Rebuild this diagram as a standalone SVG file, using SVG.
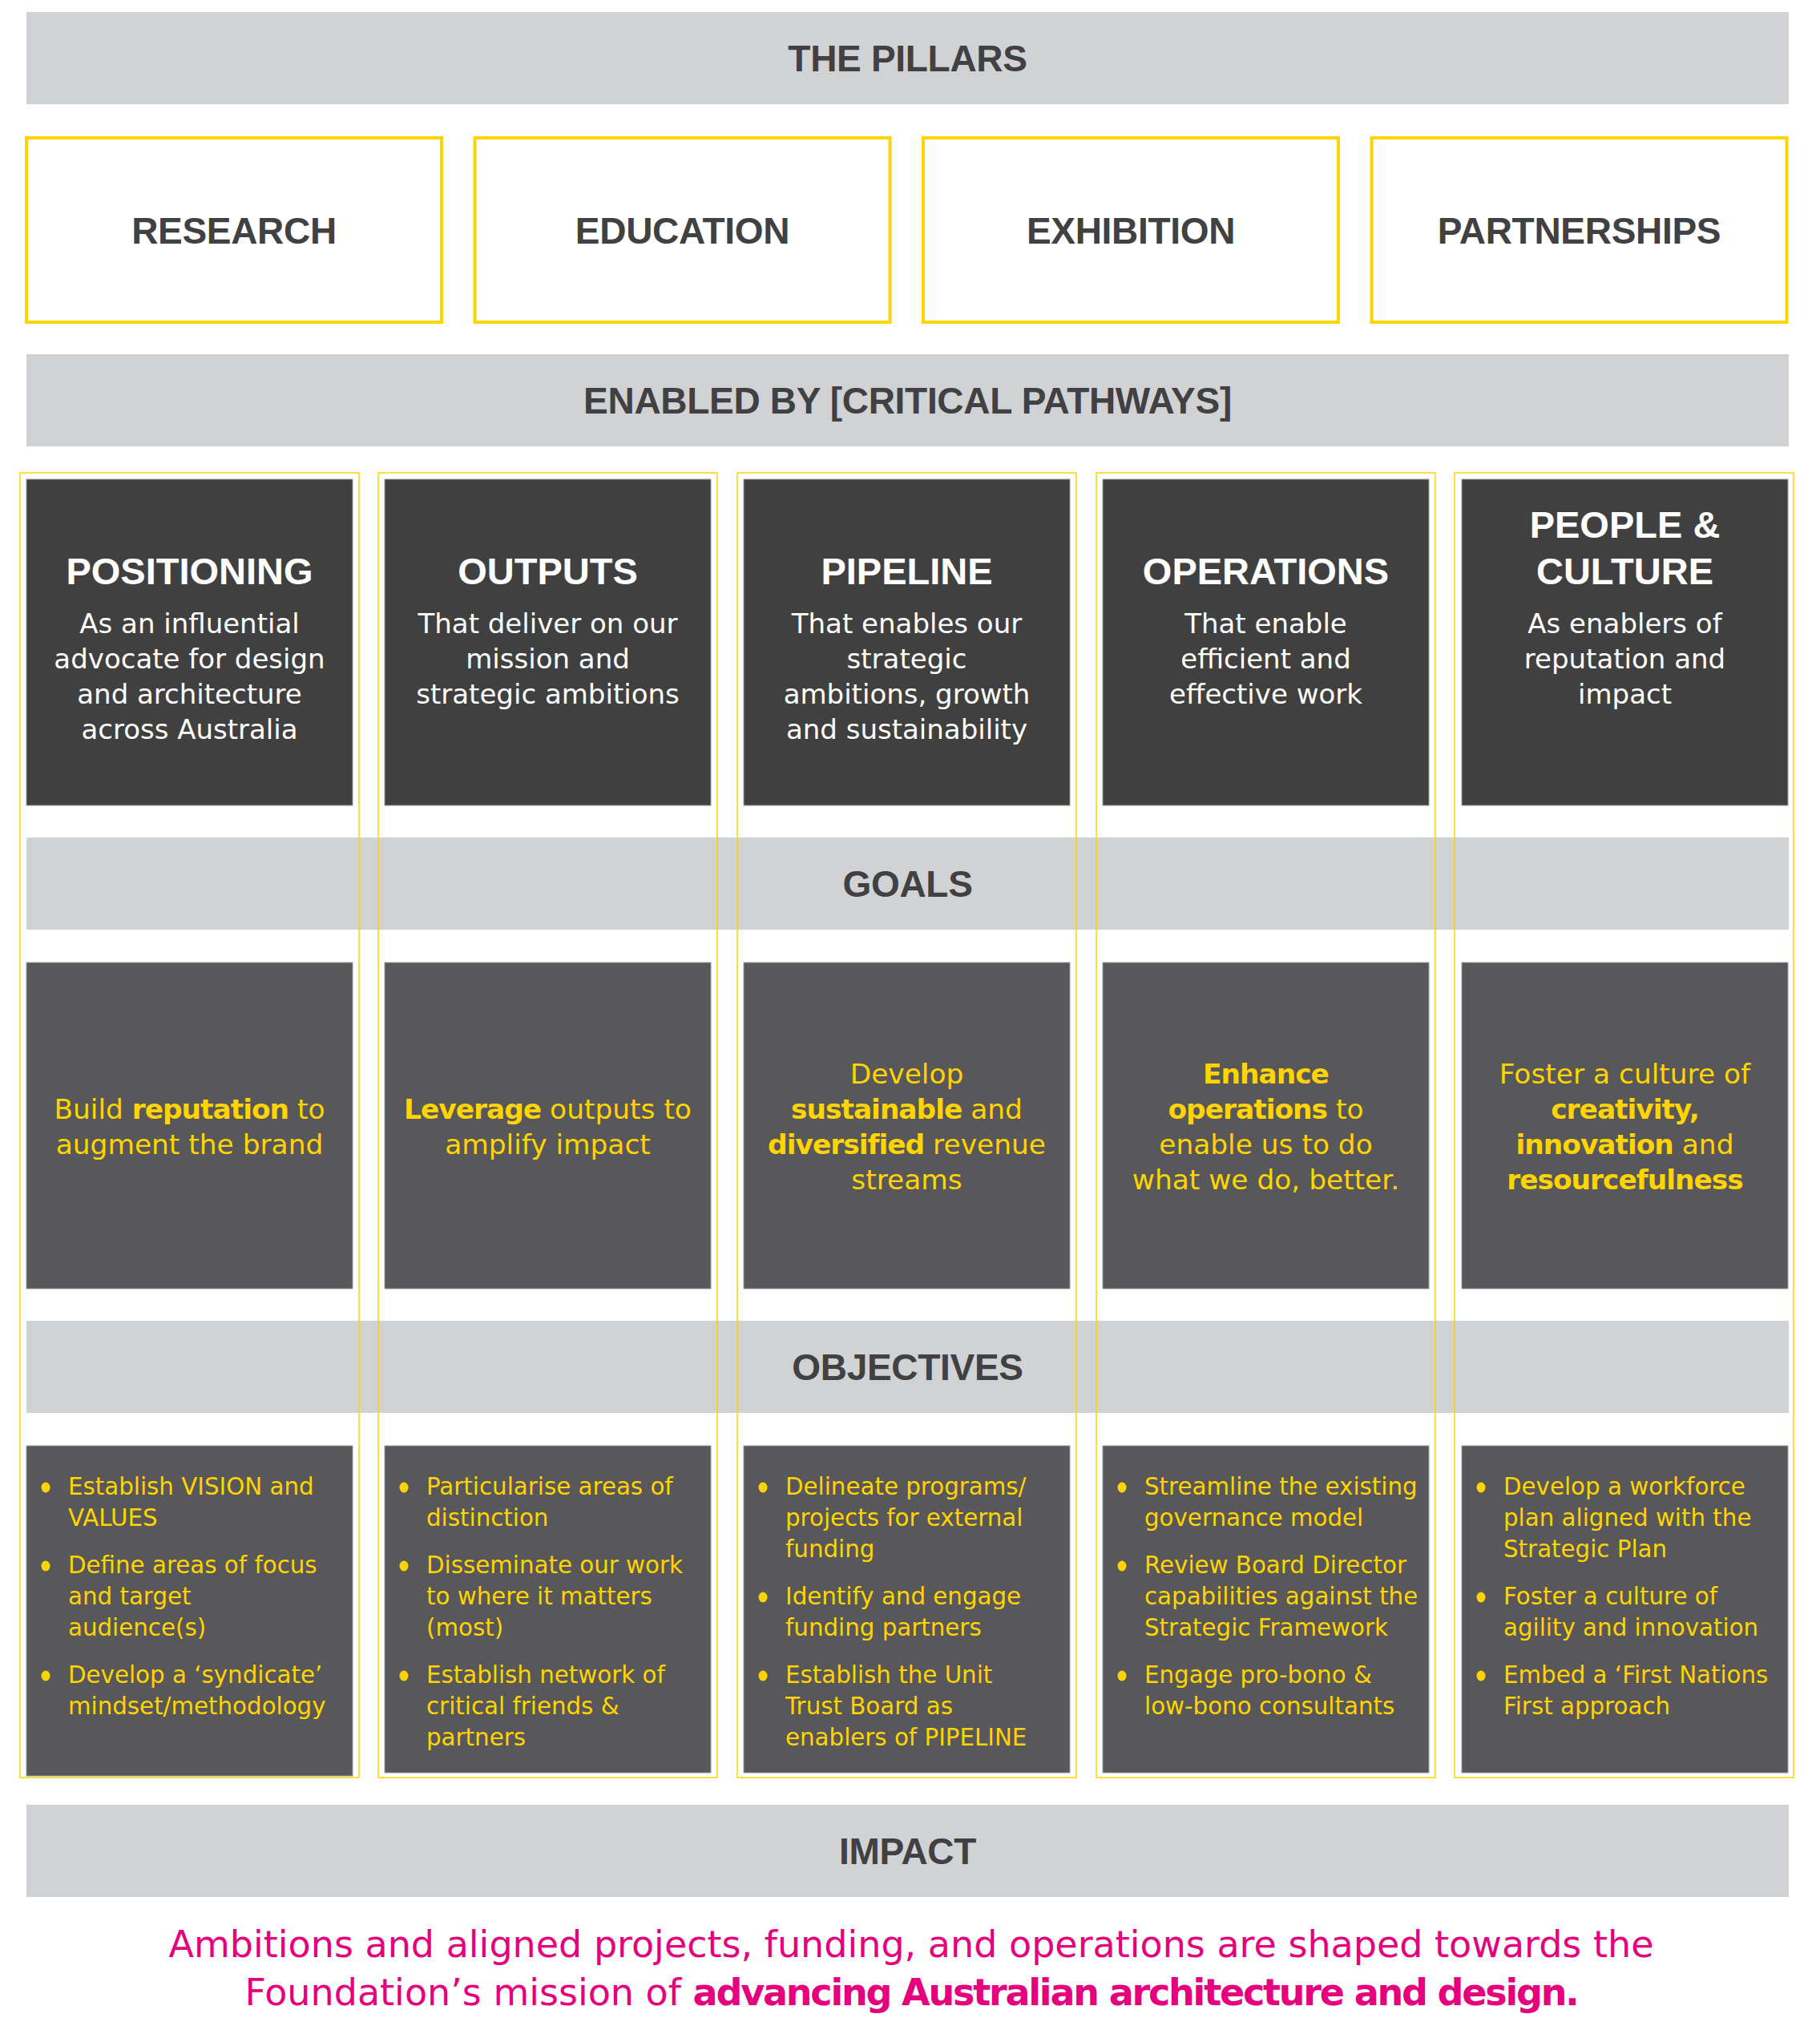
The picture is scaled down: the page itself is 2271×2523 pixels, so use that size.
<svg xmlns="http://www.w3.org/2000/svg" width="2271" height="2523" viewBox="0 0 2271 2523">
<style>
.band{fill:#d1d2d4}
.bandtxt{font-family:"Liberation Sans",Arial,sans-serif;font-weight:700;font-size:46px;fill:#414042;text-anchor:middle;letter-spacing:-0.3px}
.pillar{fill:#ffffff;stroke:#ffd400;stroke-width:4}
.col{fill:none;stroke:#ffd400;stroke-width:1.5}
.hdr{fill:#404041;stroke:#9a9a9a;stroke-width:1}
.gbox{fill:#58585a;stroke:#9a9a9a;stroke-width:1}
.title{font-family:"Liberation Sans",Arial,sans-serif;font-weight:700;font-size:47px;fill:#ffffff;text-anchor:middle}
.sub{font-family:"DejaVu Sans",sans-serif;font-size:34px;fill:#ffffff;text-anchor:middle}
.goal{font-family:"DejaVu Sans",sans-serif;font-size:34.4px;fill:#ffd400;text-anchor:middle}
.b{font-weight:700;letter-spacing:-1px}
.obj{font-family:"DejaVu Sans",sans-serif;font-size:29.3px;fill:#ffd400}
.dot{fill:#ffd400}
.pink{font-family:"DejaVu Sans",sans-serif;font-size:46px;fill:#e5007e;text-anchor:middle}
.pb{font-weight:700;letter-spacing:-2.2px}
</style>
<rect width="2271" height="2523" fill="#ffffff"/>

<g id="band-pillars"><rect class="band" x="33" y="15" width="2199" height="115"/><text class="bandtxt" x="1132.5" y="89">THE PILLARS</text></g>

<g id="pillar-research"><rect class="pillar" x="33" y="172" width="518" height="230"/><text class="bandtxt" x="292" y="304">RESEARCH</text></g>
<g id="pillar-education"><rect class="pillar" x="592.5" y="172" width="518" height="230"/><text class="bandtxt" x="851.5" y="304">EDUCATION</text></g>
<g id="pillar-exhibition"><rect class="pillar" x="1152" y="172" width="518" height="230"/><text class="bandtxt" x="1411" y="304">EXHIBITION</text></g>
<g id="pillar-partnerships"><rect class="pillar" x="1711.5" y="172" width="518" height="230"/><text class="bandtxt" x="1970.5" y="304">PARTNERSHIPS</text></g>

<g id="band-enabled"><rect class="band" x="33" y="442" width="2199" height="115"/><text class="bandtxt" x="1132.5" y="516">ENABLED BY [CRITICAL PATHWAYS]</text></g>
<g id="band-goals"><rect class="band" x="33" y="1045" width="2199" height="115"/><text class="bandtxt" x="1132.5" y="1119">GOALS</text></g>
<g id="band-objectives"><rect class="band" x="33" y="1648" width="2199" height="115"/><text class="bandtxt" x="1132.5" y="1722">OBJECTIVES</text></g>
<g id="band-impact"><rect class="band" x="33" y="2252" width="2199" height="115"/><text class="bandtxt" x="1132.5" y="2326">IMPACT</text></g>

<!-- Column 1 -->
<g id="col-positioning">
<rect class="col" x="25" y="590" width="423" height="1628"/>
<rect class="hdr" x="33" y="598" width="407" height="407"/>
<text class="title" x="236.5" y="729">POSITIONING</text>
<text class="sub" x="236.5" y="790">As an influential</text>
<text class="sub" x="236.5" y="834">advocate for design</text>
<text class="sub" x="236.5" y="878">and architecture</text>
<text class="sub" x="236.5" y="922">across Australia</text>
<rect class="gbox" x="33" y="1201" width="407" height="407"/>
<text class="goal" x="236.5" y="1396">Build <tspan class="b">reputation</tspan> to</text>
<text class="goal" x="236.5" y="1440">augment the brand</text>
<rect class="gbox" x="33" y="1804" width="407" height="412"/>
<ellipse class="dot" cx="57" cy="1856" rx="5.5" ry="6.5"/>
<text class="obj" x="85" y="1865">Establish VISION and</text>
<text class="obj" x="85" y="1904">VALUES</text>
<ellipse class="dot" cx="57" cy="1954" rx="5.5" ry="6.5"/>
<text class="obj" x="85" y="1963">Define areas of focus</text>
<text class="obj" x="85" y="2002">and target</text>
<text class="obj" x="85" y="2041">audience(s)</text>
<ellipse class="dot" cx="57" cy="2091" rx="5.5" ry="6.5"/>
<text class="obj" x="85" y="2100">Develop a ‘syndicate’</text>
<text class="obj" x="85" y="2139">mindset/methodology</text>
</g>

<!-- Column 2 -->
<g id="col-outputs">
<rect class="col" x="472" y="590" width="423" height="1628"/>
<rect class="hdr" x="480" y="598" width="407" height="407"/>
<text class="title" x="683.5" y="729">OUTPUTS</text>
<text class="sub" x="683.5" y="790">That deliver on our</text>
<text class="sub" x="683.5" y="834">mission and</text>
<text class="sub" x="683.5" y="878">strategic ambitions</text>
<rect class="gbox" x="480" y="1201" width="407" height="407"/>
<text class="goal" x="683.5" y="1396"><tspan class="b">Leverage</tspan> outputs to</text>
<text class="goal" x="683.5" y="1440">amplify impact</text>
<rect class="gbox" x="480" y="1804" width="407" height="408"/>
<ellipse class="dot" cx="504" cy="1856" rx="5.5" ry="6.5"/>
<text class="obj" x="532" y="1865">Particularise areas of</text>
<text class="obj" x="532" y="1904">distinction</text>
<ellipse class="dot" cx="504" cy="1954" rx="5.5" ry="6.5"/>
<text class="obj" x="532" y="1963">Disseminate our work</text>
<text class="obj" x="532" y="2002">to where it matters</text>
<text class="obj" x="532" y="2041">(most)</text>
<ellipse class="dot" cx="504" cy="2091" rx="5.5" ry="6.5"/>
<text class="obj" x="532" y="2100">Establish network of</text>
<text class="obj" x="532" y="2139">critical friends &amp;</text>
<text class="obj" x="532" y="2178">partners</text>
</g>

<!-- Column 3 -->
<g id="col-pipeline">
<rect class="col" x="920" y="590" width="423" height="1628"/>
<rect class="hdr" x="928" y="598" width="407" height="407"/>
<text class="title" x="1131.5" y="729">PIPELINE</text>
<text class="sub" x="1131.5" y="790">That enables our</text>
<text class="sub" x="1131.5" y="834">strategic</text>
<text class="sub" x="1131.5" y="878">ambitions, growth</text>
<text class="sub" x="1131.5" y="922">and sustainability</text>
<rect class="gbox" x="928" y="1201" width="407" height="407"/>
<text class="goal" x="1131.5" y="1352">Develop</text>
<text class="goal" x="1131.5" y="1396"><tspan class="b">sustainable</tspan> and</text>
<text class="goal" x="1131.5" y="1440"><tspan class="b">diversified</tspan> revenue</text>
<text class="goal" x="1131.5" y="1484">streams</text>
<rect class="gbox" x="928" y="1804" width="407" height="408"/>
<ellipse class="dot" cx="952" cy="1856" rx="5.5" ry="6.5"/>
<text class="obj" x="980" y="1865">Delineate programs/</text>
<text class="obj" x="980" y="1904">projects for external</text>
<text class="obj" x="980" y="1943">funding</text>
<ellipse class="dot" cx="952" cy="1993" rx="5.5" ry="6.5"/>
<text class="obj" x="980" y="2002">Identify and engage</text>
<text class="obj" x="980" y="2041">funding partners</text>
<ellipse class="dot" cx="952" cy="2091" rx="5.5" ry="6.5"/>
<text class="obj" x="980" y="2100">Establish the Unit</text>
<text class="obj" x="980" y="2139">Trust Board as</text>
<text class="obj" x="980" y="2178">enablers of PIPELINE</text>
</g>

<!-- Column 4 -->
<g id="col-operations">
<rect class="col" x="1368" y="590" width="423" height="1628"/>
<rect class="hdr" x="1376" y="598" width="407" height="407"/>
<text class="title" x="1579.5" y="729">OPERATIONS</text>
<text class="sub" x="1579.5" y="790">That enable</text>
<text class="sub" x="1579.5" y="834">efficient and</text>
<text class="sub" x="1579.5" y="878">effective work</text>
<rect class="gbox" x="1376" y="1201" width="407" height="407"/>
<text class="goal" x="1579.5" y="1352"><tspan class="b">Enhance</tspan></text>
<text class="goal" x="1579.5" y="1396"><tspan class="b">operations</tspan> to</text>
<text class="goal" x="1579.5" y="1440">enable us to do</text>
<text class="goal" x="1579.5" y="1484">what we do, better.</text>
<rect class="gbox" x="1376" y="1804" width="407" height="408"/>
<ellipse class="dot" cx="1400" cy="1856" rx="5.5" ry="6.5"/>
<text class="obj" x="1428" y="1865">Streamline the existing</text>
<text class="obj" x="1428" y="1904">governance model</text>
<ellipse class="dot" cx="1400" cy="1954" rx="5.5" ry="6.5"/>
<text class="obj" x="1428" y="1963">Review Board Director</text>
<text class="obj" x="1428" y="2002">capabilities against the</text>
<text class="obj" x="1428" y="2041">Strategic Framework</text>
<ellipse class="dot" cx="1400" cy="2091" rx="5.5" ry="6.5"/>
<text class="obj" x="1428" y="2100">Engage pro-bono &amp;</text>
<text class="obj" x="1428" y="2139">low-bono consultants</text>
</g>

<!-- Column 5 -->
<g id="col-people-culture">
<rect class="col" x="1815" y="590" width="423" height="1628"/>
<rect class="hdr" x="1824" y="598" width="407" height="407"/>
<text class="title" x="2027.5" y="671">PEOPLE &amp;</text>
<text class="title" x="2027.5" y="729">CULTURE</text>
<text class="sub" x="2027.5" y="790">As enablers of</text>
<text class="sub" x="2027.5" y="834">reputation and</text>
<text class="sub" x="2027.5" y="878">impact</text>
<rect class="gbox" x="1824" y="1201" width="407" height="407"/>
<text class="goal" x="2027.5" y="1352">Foster a culture of</text>
<text class="goal" x="2027.5" y="1396"><tspan class="b">creativity,</tspan></text>
<text class="goal" x="2027.5" y="1440"><tspan class="b">innovation</tspan> and</text>
<text class="goal" x="2027.5" y="1484"><tspan class="b">resourcefulness</tspan></text>
<rect class="gbox" x="1824" y="1804" width="407" height="408"/>
<ellipse class="dot" cx="1848" cy="1856" rx="5.5" ry="6.5"/>
<text class="obj" x="1876" y="1865">Develop a workforce</text>
<text class="obj" x="1876" y="1904">plan aligned with the</text>
<text class="obj" x="1876" y="1943">Strategic Plan</text>
<ellipse class="dot" cx="1848" cy="1993" rx="5.5" ry="6.5"/>
<text class="obj" x="1876" y="2002">Foster a culture of</text>
<text class="obj" x="1876" y="2041">agility and innovation</text>
<ellipse class="dot" cx="1848" cy="2091" rx="5.5" ry="6.5"/>
<text class="obj" x="1876" y="2100">Embed a ‘First Nations</text>
<text class="obj" x="1876" y="2139">First approach</text>
</g>

<g id="connectors"></g>

<g id="impact-statement">
<text class="pink" x="1137" y="2442">Ambitions and aligned projects, funding, and operations are shaped towards the</text>
<text class="pink" x="1137" y="2502">Foundation’s mission of <tspan class="pb">advancing Australian architecture and design.</tspan></text>
</g>
</svg>
